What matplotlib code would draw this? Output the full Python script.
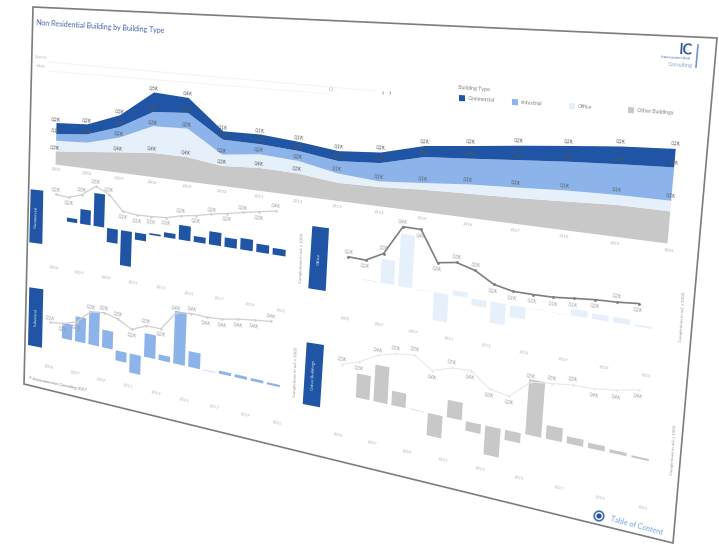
import math

import matplotlib

matplotlib.use("Agg")
import matplotlib.pyplot as plt
import numpy as np
from matplotlib.patches import Circle, Polygon
from matplotlib.path import Path
from matplotlib.transforms import Transform

plt.rcParams["font.family"] = ["Lato", "DejaVu Sans"]

years = list(range(2005, 2021))
bar_years = list(range(2006, 2021))
tick_years = [2005, 2007, 2009, 2011, 2013, 2015, 2017, 2019, 2021]

# top stacked area, in panel units
other_area = [16.2, 19.9, 24.1, 27.9, 27.9, 22.4, 25.1, 24.0, 19.1, 19.9, 22.5, 23.9, 25.2, 27.3, 29.7, 29.4]
office_area = [13.0, 11.2, 17.3, 30.9, 32.2, 12.7, 15.0, 13.5, 9.9, 5.8, 6.7, 9.2, 10.1, 10.5, 9.3, 9.7]
industrial_area = [8.2, 10.0, 12.5, 16.5, 17.7, 16.7, 11.0, 10.7, 13.0, 19.0, 26.4, 25.5, 26.6, 27.3, 28.5, 30.3]
commercial_area = [13.4, 12.0, 13.8, 22.4, 17.0, 9.3, 10.6, 9.7, 10.5, 10.9, 11.2, 12.5, 13.9, 14.9, 16.4, 16.7]

commercial_top = ["0,2K", "0,2K", "0,3K", "0,5K", "0,4K", "0,1K", "0,1K", "0,1K", "0,1K", "0,2K", "0,2K", "0,2K", "0,2K", "0,2K", "0,2K", "0,2K"]
industrial_top = ["0,1K", "0,1K", "0,2K", "0,3K", "0,3K", "0,2K", "0,2K", "0,2K", "0,2K", "0,2K", "0,4K", "0,4K", "0,4K", "0,4K", "0,4K", "0,4K"]
office_top = ["", "", "0,2K", "0,3K", "0,3K", "0,2K", "0,2K", "0,2K", "0,1K", "0,1K", "0,1K", "0,1K", "0,1K", "0,1K", "0,1K", "0,1K"]
other_top = ["0,3K", "", "0,4K", "0,4K", "0,4K", "0,3K", "0,4K", "0,3K", "", "", "", "", "", "", "", ""]

# small panels: yoy bars and total line
commercial_bars = [5, 18, 40, -17, -42, -8.5, 2, 5.7, 17, 6.8, 15, 10.7, 12.8, 9.2, 7.3]
commercial_line = [31.5, 30, 36, 48.3, 40.7, 22.9, 21, 21.8, 23, 27.6, 30.6, 34.7, 38, 41.7, 45, 48.4]
commercial_labels = ["0,2K", "0,2K", "0,3K", "0,5K", "0,3K", "0,1K", "0,1K", "0,1K", "0,1K", "0,2K", "0,2K", "0,2K", "0,2K", "0,3K", "0,3K", "0,4K"]
commercial_above = [1, 0, 1, 1, 1, 0, 0, 0, 0, 1, 0, 1, 0, 1, 0, 1]

industrial_bars = [19.3, 30.6, 40.7, 21.4, -12, -22.6, 27.8, 6.6, 61, 18, 0.5, 3.4, 3.4, 3, 2.5]
industrial_line = [16.4, 18.3, 24, 39.6, 42, 37.7, 29, 36.7, 36.9, 59, 61.5, 60.7, 62, 65.5, 67.8, 69.9]
industrial_labels = ["0,1K", "0,2K", "0,2K", "0,3K", "0,3K", "0,3K", "0,2K", "0,3K", "0,2K", "0,4K", "0,4K", "0,4K", "0,4K", "0,4K", "0,4K", "0,4K"]
industrial_above = [1, 0, 0, 1, 1, 1, 0, 1, 0, 1, 1, 0, 0, 0, 0, 1]

office_bars = [1, 25.5, 54.5, -0.5, -29, 5, -7, -21, -12, -0.5, -0.5, 6.5, 5.4, 5.4, 2]
office_line = [21.9, 21.3, 31.2, 62, 61.9, 30.5, 33.7, 28.6, 17.7, 13.9, 14, 14.6, 16.8, 18.8, 19.8, 21.8]
office_labels = ["0,2K", "0,2K", "0,3K", "0,4K", "0,4K", "0,3K", "0,3K", "0,3K", "0,2K", "0,1K", "0,1K", "0,1K", "0,1K", "0,2K", "0,2K", "0,2K"]
office_above = [1, 0, 1, 1, 0, 0, 1, 1, 0, 0, 0, 0, 0, 0, 1, 0]

other_bars = [25.5, 38.6, 15, 0.5, -23, 17.7, -9.5, -29, -10, 54.5, 13.4, 6.8, 5, 3.2, 2]
other_line = [31.4, 38, 48.6, 53.9, 56.4, 44, 50.5, 51.8, 37, 34, 51.9, 54.4, 56.9, 57.3, 60, 64.3]
other_labels = ["0,3K", "0,3K", "0,4K", "0,5K", "0,5K", "0,4K", "0,5K", "0,4K", "0,3K", "0,3K", "0,5K", "0,5K", "0,5K", "0,4K", "0,4K", "0,4K"]
other_above = [1, 0, 1, 1, 1, 0, 1, 0, 0, 0, 1, 1, 1, 0, 0, 0]

DARK = "#1f55a4"
MID = "#8db4ea"
LIGHT = "#e6f0fb"
GRAY = "#c8c8c8"
TEXT = "#9a9a9a"


class QuadTransform(Transform):
    """Maps a data rectangle onto a quad in picture pixels (the tilted screen)."""

    input_dims = 2
    output_dims = 2
    is_separable = False
    has_inverse = False

    def __init__(self, xlim, ylim, bl, br, tr, tl):
        super().__init__()
        src = [(xlim[0], ylim[0]), (xlim[1], ylim[0]), (xlim[1], ylim[1]), (xlim[0], ylim[1])]
        rows, rhs = [], []
        for (x, y), (u, v) in zip(src, [bl, br, tr, tl]):
            rows.append([x, y, 1, 0, 0, 0, -u * x, -u * y])
            rows.append([0, 0, 0, x, y, 1, -v * x, -v * y])
            rhs += [u, v]
        self.h = np.append(np.linalg.solve(np.array(rows, float), np.array(rhs, float)), 1).reshape(3, 3)

    def transform_non_affine(self, values):
        values = np.asarray(values, float)
        pts = np.column_stack([values, np.ones(len(values))]) @ self.h.T
        return pts[:, :2] / pts[:, 2:3]

    def transform_path_non_affine(self, path):
        fine = path.interpolated(8)
        return Path(self.transform_non_affine(fine.vertices), fine.codes)


fig = plt.figure(figsize=(7.19, 5.45), dpi=100)
ax = fig.add_axes([0, 0, 1, 1])
ax.axis("off")


def angle_at(quad, x, y):
    a, b = quad.transform(np.array([[x, y], [x + 0.5, y]], float))
    return -math.degrees(math.atan2(b[1] - a[1], b[0] - a[0]))


def put_text(quad, x, y, s, size=3.6, color=TEXT, **kw):
    trans = quad + ax.transData
    ax.text(x, y, s, transform=trans, fontsize=size, color=color, ha="center", va="center",
            rotation=angle_at(quad, x, y), rotation_mode="anchor", **kw)


# screen frame
frame = [(33, 7), (717, 38), (673, 543), (24, 384)]
ax.add_patch(Polygon(frame, closed=True, facecolor="white", edgecolor="#7d7d7d", linewidth=1.2))

# main stacked area
top_quad = QuadTransform((2005, 2020), (0, 100), (55, 164), (667, 243), (676.6, 133), (57, 82))
top_trans = top_quad + ax.transData
base = np.zeros(len(years))
stack = [(other_area, GRAY, other_top), (office_area, LIGHT, office_top),
         (industrial_area, MID, industrial_top), (commercial_area, DARK, commercial_top)]
for vals, col, labels in stack:
    upper = base + np.array(vals)
    ax.fill_between(years, base, upper, color=col, linewidth=0, transform=top_trans)
    for yr, u, lab in zip(years, upper, labels):
        if lab:
            put_text(top_quad, yr, u + 4.5, lab, color="#555555", size=3.4)
    base = upper
for yr in years:
    put_text(top_quad, yr + 0.05, -7, str(yr), size=3.2, color="#b0b0b0")


def small_panel(quad, bars, line, labels, above, colour, line_colour, line_width, tick_y, tab, tab_label):
    trans = quad + ax.transData
    ax.bar(np.array(bar_years) + 0.3, bars, width=0.78, color=colour, linewidth=0, transform=trans)
    ax.plot(years, line, color=line_colour, linewidth=line_width, transform=trans, zorder=3)
    ax.plot(years, line, "o", color=line_colour, markersize=line_width * 0.9, transform=trans, zorder=3)
    for yr, v, lab, up in zip(years, line, labels, above):
        put_text(quad, yr, v + (6 if up else -6), lab, size=3.4)
    tick_x = np.linspace(2005, 2020.6, len(tick_years))
    for x, yr in zip(tick_x, tick_years):
        put_text(quad, x, tick_y, str(yr), size=3.2, color="#b4b4b4")
    ax.add_patch(Polygon(tab, closed=True, facecolor=DARK, edgecolor="none"))
    cx = sum(p[0] for p in tab) / 4
    cy = sum(p[1] for p in tab) / 4
    ax.text(cx, cy, tab_label, color="#dce7f7", fontsize=3.2, rotation=88, ha="center", va="center")


small_panel(QuadTransform((2005, 2020), (-50, 50), (54, 259.5), (272, 299.5), (276, 209.5), (56, 179.5)),
            commercial_bars, commercial_line, commercial_labels, commercial_above,
            DARK, "#cfcfcf", 0.9, -61,
            [(30.7, 189.3), (43.3, 190.7), (42.3, 244), (29.3, 242.3)], "Commercial")
small_panel(QuadTransform((2005, 2020), (-50, 50), (49, 375.3), (266.3, 429.5), (270.3, 339.5), (51, 295.3)),
            industrial_bars, industrial_line, industrial_labels, industrial_above,
            MID, "#cfcfcf", 0.9, -40,
            [(29.3, 287.3), (43.3, 289.3), (42, 347.7), (28, 345)], "Industrial")
small_panel(QuadTransform((2005, 2020), (-50, 50), (344.8, 323.5), (632.4, 378.7), (641, 273.7), (349.8, 230.5)),
            office_bars, office_line, office_labels, office_above,
            LIGHT, "#7f7f7f", 1.2, -45,
            [(312.3, 226), (329, 228.3), (325.7, 291), (308.3, 288.3)], "Office")
small_panel(QuadTransform((2005, 2020), (-50, 50), (337.5, 440.1), (629, 510), (637.6, 405), (342.5, 347.1)),
            other_bars, other_line, other_labels, other_above,
            GRAY, "#e8e8e8", 0.8, -45,
            [(306.7, 342.3), (324, 345), (320, 407.3), (302.7, 404)], "Other Buildings")

# title, slicer, legend
ax.text(36, 22.5, "Non Residential Building by Building Type", color="#3f63ad", fontsize=5.0,
        rotation=-3.6, rotation_mode="anchor", va="center")
ax.text(35, 59, "Country", color="#b4b4b4", fontsize=2.6, rotation=-3)
ax.text(36, 68, "White", color="#b4b4b4", fontsize=2.6, rotation=-3)
ax.plot([48, 375], [62, 91], color="#f0f0f0", linewidth=0.6)
ax.plot([48, 330], [71, 94], color="#f4f4f4", linewidth=0.6)
ax.add_patch(Circle((331, 89), 1.8, facecolor="white", edgecolor="#c8c8c8", linewidth=0.5))
ax.text(383, 93, "‹", color="#555555", fontsize=6, ha="center", va="center")
ax.text(390, 93, "›", color="#555555", fontsize=6, ha="center", va="center")

ax.text(458, 89, "Building Type", color="#808080", fontsize=3.8, rotation=-4, va="center")
legend_items = [("Commercial", DARK, 462, 98), ("Industrial", MID, 515, 102), ("Office", LIGHT, 572, 106), ("Other Buildings", GRAY, 631, 110)]
for name, col, lx, ly in legend_items:
    ax.add_patch(Polygon([(lx - 3, ly - 3), (lx + 3, ly - 2.7), (lx + 3, ly + 3.3), (lx - 3, ly + 3)],
                         closed=True, facecolor=col, edgecolor="none"))
    ax.text(lx + 6, ly + 0.5, name, color="#808080", fontsize=3.8, rotation=-4, va="center", rotation_mode="anchor")

# logo
ax.text(686.5, 50, "IC", color="#2a5298", fontsize=10.5, fontweight="bold", ha="center", va="center", rotation=-3)
ax.plot([698, 696], [45, 67], color="#6f94cf", linewidth=1.2)
ax.text(676, 58, "Interconnection", color="#4f78bd", fontsize=3.2, ha="center", va="center", rotation=-3)
ax.text(680, 65, "Consulting", color="#8aa5d0", fontsize=3.8, ha="center", va="center", rotation=-3)

# axis captions
ax.text(302, 258, "Completions in m2 x 1000", color=TEXT, fontsize=3.2, rotation=88, ha="center", va="center")
ax.text(296, 372, "Completions in m2 x 1000", color=TEXT, fontsize=3.2, rotation=88, ha="center", va="center")
ax.text(683, 317, "Completions in m2 x 1000", color=TEXT, fontsize=3.2, rotation=86, ha="center", va="center")
ax.text(674, 450, "Completions in m2 x 1000", color=TEXT, fontsize=3.2, rotation=86, ha="center", va="center")

# footer
ax.text(28, 378, "© Interconnection Consulting 2017", color="#777777", fontsize=2.7, rotation=-12,
        rotation_mode="anchor", va="center")
ax.add_patch(Circle((599, 516), 4.8, facecolor="white", edgecolor="#3e6fb8", linewidth=1.2))
ax.add_patch(Circle((599, 516), 2.6, facecolor="#2a5298", edgecolor="none"))
ax.text(611, 519, "Table of Content", color="#6fa3df", fontsize=5.2, rotation=-15, rotation_mode="anchor", va="center")

ax.set_xlim(0, 719)
ax.set_ylim(545, 0)
fig.savefig("out.png", dpi=100)
plt.close(fig)
